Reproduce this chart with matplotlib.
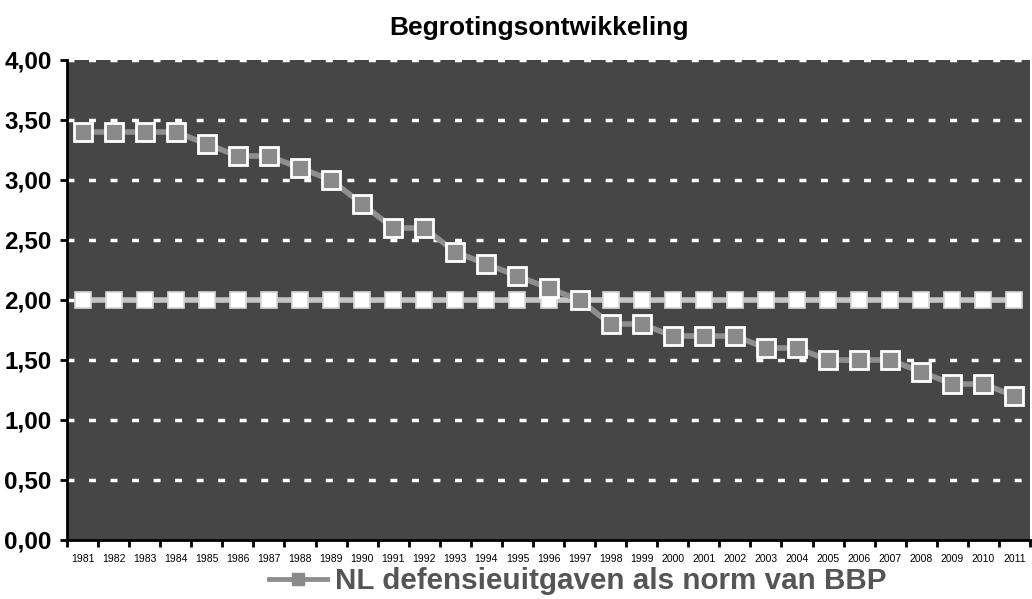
import matplotlib
matplotlib.use("Agg")
import matplotlib.pyplot as plt
from matplotlib.ticker import FixedLocator, FuncFormatter
from matplotlib.lines import Line2D

plt.rcParams['font.family'] = ['Liberation Sans', 'DejaVu Sans']

years = [str(y) for y in range(1981, 2012)]
nl_values = [3.4, 3.4, 3.4, 3.4, 3.3, 3.2, 3.2, 3.1, 3.0, 2.8, 2.6, 2.6, 2.4, 2.3, 2.2, 2.1,
             2.0, 1.8, 1.8, 1.7, 1.7, 1.7, 1.6, 1.6, 1.5, 1.5, 1.5, 1.4, 1.3, 1.3, 1.2]
norm_values = [2.0] * 31
y_ticks = [0, 0.5, 1.0, 1.5, 2.0, 2.5, 3.0, 3.5, 4.0]
legend_label = 'NL defensieuitgaven als norm van BBP'

fig = plt.figure(figsize=(10.32, 5.99), dpi=100)
ax = fig.add_axes([67/1032, 59/599, 963/1032, 480/599])
ax.set_facecolor('#464646')

x = list(range(len(years)))
ax.plot(x, norm_values, color='#c4c4c4', lw=4, marker='s', ms=12,
        mfc='white', mec='#d8d8d8', mew=1.2, zorder=3)
ax.plot(x, nl_values, color='#8e8e8e', lw=4, marker='s', ms=12.5,
        mfc='#8a8a8a', mec='white', mew=2, zorder=4)

ax.set_xlim(-0.5, len(years) - 0.5)
ax.set_ylim(0, 4)
ax.yaxis.set_major_locator(FixedLocator(y_ticks))
ax.yaxis.set_major_formatter(FuncFormatter(lambda v, p: f"{v:.2f}".replace('.', ',')))
ax.set_xticks(x)
ax.set_xticklabels(years, fontsize=7.5)
ax.xaxis.set_minor_locator(FixedLocator([i - 0.5 for i in range(len(years) + 1)]))
ax.tick_params(axis='x', which='major', length=0, pad=10)
ax.tick_params(axis='x', which='minor', length=5, width=2, direction='out')
ax.tick_params(axis='y', length=5, width=2, direction='out', labelsize=17.5, pad=6)
for lab in ax.get_yticklabels():
    lab.set_fontweight('bold')

for yv in y_ticks[1:]:
    ax.axhline(yv, color='white', lw=2.5, ls=(0, (2, 4.2)), zorder=2)

for s in ['top', 'right']:
    ax.spines[s].set_visible(False)
ax.spines['left'].set_linewidth(2)
ax.spines['bottom'].set_linewidth(2)

fig.suptitle('Begrotingsontwikkeling', x=539/1032, y=1-28/599, va='center',
             fontsize=19, fontweight='bold')

handle = Line2D([], [], color='#8e8e8e', lw=3.5, marker='s', ms=9,
                mfc='#8a8a8a', mec='#8a8a8a')
leg = fig.legend([handle], [legend_label], loc='center',
                 bbox_to_anchor=(578/1032, 1-581/599), frameon=False,
                 prop={'size': 21.3, 'weight': 'bold'}, handlelength=1.95,
                 handletextpad=0.28)
for t in leg.get_texts():
    t.set_color('#555555')

fig.savefig('out.png', dpi=100)
